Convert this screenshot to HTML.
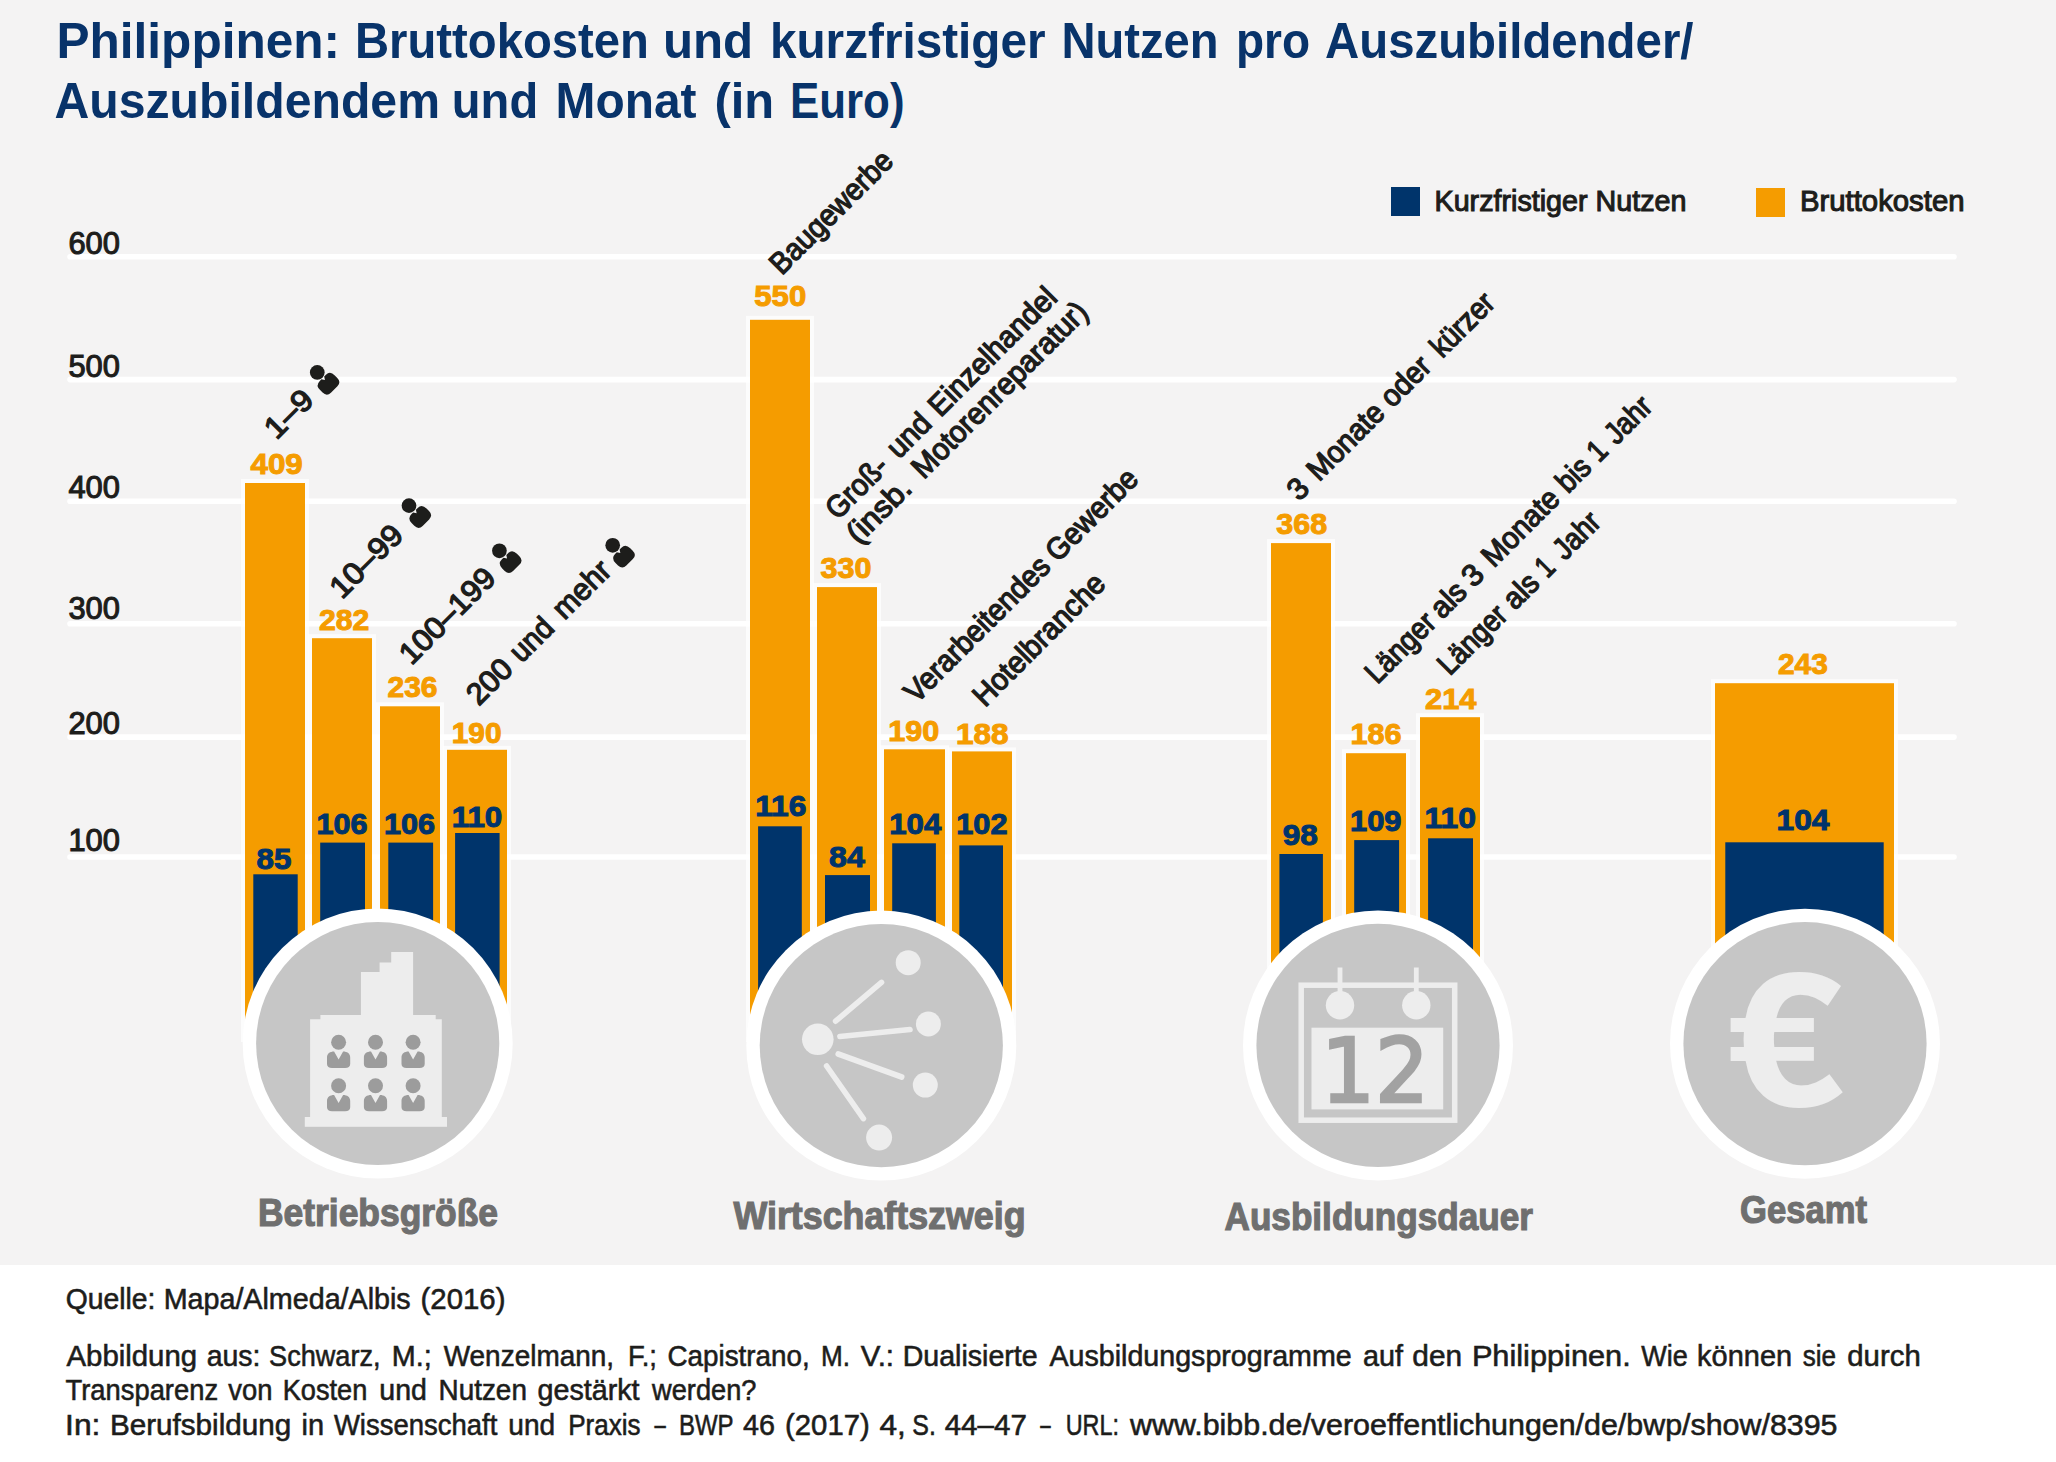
<!DOCTYPE html><html lang="de"><head><meta charset="utf-8"><title>Philippinen: Bruttokosten und kurzfristiger Nutzen</title>
<style>html,body{margin:0;padding:0;background:#fff}body{width:2056px;height:1462px;overflow:hidden}svg{display:block}text{font-family:"Liberation Sans",sans-serif}.b{font-weight:bold}.m{stroke-width:1.1px}.r{stroke-width:1.35px}.v{stroke-width:1px}.c{stroke-width:1.2px}.f{stroke-width:.6px}</style></head><body>
<svg width="2056" height="1462" viewBox="0 0 2056 1462">
<rect x="0" y="0" width="2056" height="1462" fill="#fff"/>
<rect x="0" y="0" width="2056" height="1265" fill="#f4f3f3"/>
<text y="58.2" font-size="50.4" fill="#08336a" class="b"><tspan x="56.44" textLength="283.65" lengthAdjust="spacingAndGlyphs">Philippinen:</tspan> <tspan x="354.95" textLength="294.06" lengthAdjust="spacingAndGlyphs">Bruttokosten</tspan> <tspan x="662.89" textLength="90.23" lengthAdjust="spacingAndGlyphs">und</tspan> <tspan x="769.99" textLength="275.52" lengthAdjust="spacingAndGlyphs">kurzfristiger</tspan> <tspan x="1061.43" textLength="157.14" lengthAdjust="spacingAndGlyphs">Nutzen</tspan> <tspan x="1235.94" textLength="74.13" lengthAdjust="spacingAndGlyphs">pro</tspan> <tspan x="1325.00" textLength="368.49" lengthAdjust="spacingAndGlyphs">Auszubildender/</tspan></text>
<text y="118.4" font-size="50.4" fill="#08336a" class="b"><tspan x="54.49" textLength="385.52" lengthAdjust="spacingAndGlyphs">Auszubildendem</tspan> <tspan x="451.85" textLength="86.32" lengthAdjust="spacingAndGlyphs">und</tspan> <tspan x="555.50" textLength="141.02" lengthAdjust="spacingAndGlyphs">Monat</tspan> <tspan x="714.39" textLength="59.72" lengthAdjust="spacingAndGlyphs">(in</tspan> <tspan x="789.94" textLength="114.61" lengthAdjust="spacingAndGlyphs">Euro)</tspan></text>
<rect x="1391" y="187" width="29" height="29" fill="#00346b"/>
<rect x="1756" y="188" width="29" height="29" fill="#f59c00"/>
<text x="1434.5" y="210.7" font-size="29.8" fill="#1d1d1b" stroke="#1d1d1b" class="m" textLength="252.0" lengthAdjust="spacingAndGlyphs">Kurzfristiger Nutzen</text>
<text x="1800.0" y="211.3" font-size="29.8" fill="#1d1d1b" stroke="#1d1d1b" class="m" textLength="164.5" lengthAdjust="spacingAndGlyphs">Bruttokosten</text>
<line x1="70" y1="256.7" x2="1954" y2="256.7" stroke="#fff" stroke-width="5.6" stroke-linecap="round"/>
<line x1="70" y1="379.6" x2="1954" y2="379.6" stroke="#fff" stroke-width="5.6" stroke-linecap="round"/>
<line x1="70" y1="501.2" x2="1954" y2="501.2" stroke="#fff" stroke-width="5.6" stroke-linecap="round"/>
<line x1="70" y1="623.8" x2="1954" y2="623.8" stroke="#fff" stroke-width="5.6" stroke-linecap="round"/>
<line x1="70" y1="737.1" x2="1954" y2="737.1" stroke="#fff" stroke-width="5.6" stroke-linecap="round"/>
<line x1="70" y1="857.0" x2="1954" y2="857.0" stroke="#fff" stroke-width="5.6" stroke-linecap="round"/>
<text x="68.4" y="254.1" font-size="31.0" fill="#1d1d1b" stroke="#1d1d1b" class="m" textLength="51.5" lengthAdjust="spacingAndGlyphs">600</text>
<text x="68.4" y="376.5" font-size="31.0" fill="#1d1d1b" stroke="#1d1d1b" class="m" textLength="51.5" lengthAdjust="spacingAndGlyphs">500</text>
<text x="68.4" y="497.5" font-size="31.0" fill="#1d1d1b" stroke="#1d1d1b" class="m" textLength="51.5" lengthAdjust="spacingAndGlyphs">400</text>
<text x="68.4" y="619.0" font-size="31.0" fill="#1d1d1b" stroke="#1d1d1b" class="m" textLength="51.5" lengthAdjust="spacingAndGlyphs">300</text>
<text x="68.4" y="733.9" font-size="31.0" fill="#1d1d1b" stroke="#1d1d1b" class="m" textLength="51.5" lengthAdjust="spacingAndGlyphs">200</text>
<text x="68.4" y="850.9" font-size="31.0" fill="#1d1d1b" stroke="#1d1d1b" class="m" textLength="51.5" lengthAdjust="spacingAndGlyphs">100</text>
<rect x="241.0" y="479.0" width="68.0" height="563.0" fill="#fff" opacity=".75"/>
<rect x="308.0" y="634.2" width="68.0" height="407.8" fill="#fff" opacity=".75"/>
<rect x="376.0" y="702.3" width="68.0" height="339.7" fill="#fff" opacity=".75"/>
<rect x="443.0" y="745.8" width="68.0" height="296.2" fill="#fff" opacity=".75"/>
<rect x="746.0" y="315.8" width="68.0" height="726.2" fill="#fff" opacity=".75"/>
<rect x="813.0" y="583.1" width="68.0" height="458.9" fill="#fff" opacity=".75"/>
<rect x="880.0" y="745.3" width="69.0" height="296.7" fill="#fff" opacity=".75"/>
<rect x="948.0" y="747.4" width="68.0" height="294.6" fill="#fff" opacity=".75"/>
<rect x="1267.0" y="539.1" width="68.0" height="502.9" fill="#fff" opacity=".75"/>
<rect x="1342.0" y="749.2" width="68.0" height="292.8" fill="#fff" opacity=".75"/>
<rect x="1416.0" y="713.2" width="68.0" height="328.8" fill="#fff" opacity=".75"/>
<rect x="1711.0" y="679.2" width="187.0" height="362.8" fill="#fff" opacity=".75"/>
<rect x="245.0" y="483.0" width="60.0" height="563.0" fill="#f59c00"/>
<rect x="253.3" y="874.3" width="44.4" height="171.7" fill="#00346b"/>
<rect x="312.0" y="638.2" width="60.0" height="407.8" fill="#f59c00"/>
<rect x="320.2" y="842.6" width="44.8" height="203.4" fill="#00346b"/>
<rect x="380.0" y="706.3" width="60.0" height="339.7" fill="#f59c00"/>
<rect x="388.3" y="842.6" width="44.8" height="203.4" fill="#00346b"/>
<rect x="447.0" y="749.8" width="60.0" height="296.2" fill="#f59c00"/>
<rect x="455.1" y="833.0" width="44.5" height="213.0" fill="#00346b"/>
<rect x="750.0" y="319.8" width="60.0" height="726.2" fill="#f59c00"/>
<rect x="758.1" y="826.3" width="43.7" height="219.7" fill="#00346b"/>
<rect x="817.0" y="587.1" width="60.0" height="458.9" fill="#f59c00"/>
<rect x="825.0" y="875.1" width="45.0" height="170.9" fill="#00346b"/>
<rect x="884.0" y="749.3" width="61.0" height="296.7" fill="#f59c00"/>
<rect x="892.2" y="843.3" width="43.7" height="202.7" fill="#00346b"/>
<rect x="952.0" y="751.4" width="60.0" height="294.6" fill="#f59c00"/>
<rect x="959.3" y="845.4" width="43.7" height="200.6" fill="#00346b"/>
<rect x="1271.0" y="543.1" width="60.0" height="502.9" fill="#f59c00"/>
<rect x="1279.4" y="854.0" width="43.5" height="192.0" fill="#00346b"/>
<rect x="1346.0" y="753.2" width="60.0" height="292.8" fill="#f59c00"/>
<rect x="1354.2" y="840.1" width="44.9" height="205.9" fill="#00346b"/>
<rect x="1420.0" y="717.2" width="60.0" height="328.8" fill="#f59c00"/>
<rect x="1428.1" y="838.3" width="44.9" height="207.7" fill="#00346b"/>
<rect x="1715.0" y="683.2" width="179.0" height="362.8" fill="#f59c00"/>
<rect x="1725.3" y="842.3" width="158.4" height="203.7" fill="#00346b"/>
<text x="250.5" y="473.7" font-size="29.0" fill="#f59c00" stroke="#f59c00" class="b v" textLength="52.3" lengthAdjust="spacingAndGlyphs">409</text>
<text x="256.5" y="868.8" font-size="29.0" fill="#00346b" stroke="#00346b" class="b v" textLength="34.8" lengthAdjust="spacingAndGlyphs">85</text>
<text x="319.0" y="629.7" font-size="29.0" fill="#f59c00" stroke="#f59c00" class="b v" textLength="50.3" lengthAdjust="spacingAndGlyphs">282</text>
<text x="316.5" y="834.4" font-size="29.0" fill="#00346b" stroke="#00346b" class="b v" textLength="51.0" lengthAdjust="spacingAndGlyphs">106</text>
<text x="387.5" y="697.2" font-size="29.0" fill="#f59c00" stroke="#f59c00" class="b v" textLength="50.0" lengthAdjust="spacingAndGlyphs">236</text>
<text x="384.0" y="834.4" font-size="29.0" fill="#00346b" stroke="#00346b" class="b v" textLength="51.0" lengthAdjust="spacingAndGlyphs">106</text>
<text x="451.7" y="742.9" font-size="29.0" fill="#f59c00" stroke="#f59c00" class="b v" textLength="49.8" lengthAdjust="spacingAndGlyphs">190</text>
<text x="451.7" y="826.6" font-size="29.0" fill="#00346b" stroke="#00346b" class="b v" textLength="50.6" lengthAdjust="spacingAndGlyphs">110</text>
<text x="754.3" y="306.4" font-size="29.0" fill="#f59c00" stroke="#f59c00" class="b v" textLength="51.9" lengthAdjust="spacingAndGlyphs">550</text>
<text x="755.2" y="816.0" font-size="29.0" fill="#00346b" stroke="#00346b" class="b v" textLength="51.2" lengthAdjust="spacingAndGlyphs">116</text>
<text x="820.6" y="578.0" font-size="29.0" fill="#f59c00" stroke="#f59c00" class="b v" textLength="50.9" lengthAdjust="spacingAndGlyphs">330</text>
<text x="829.1" y="867.3" font-size="29.0" fill="#00346b" stroke="#00346b" class="b v" textLength="35.8" lengthAdjust="spacingAndGlyphs">84</text>
<text x="888.2" y="740.5" font-size="29.0" fill="#f59c00" stroke="#f59c00" class="b v" textLength="51.0" lengthAdjust="spacingAndGlyphs">190</text>
<text x="889.2" y="833.5" font-size="29.0" fill="#00346b" stroke="#00346b" class="b v" textLength="52.1" lengthAdjust="spacingAndGlyphs">104</text>
<text x="955.9" y="744.2" font-size="29.0" fill="#f59c00" stroke="#f59c00" class="b v" textLength="52.6" lengthAdjust="spacingAndGlyphs">188</text>
<text x="956.3" y="833.5" font-size="29.0" fill="#00346b" stroke="#00346b" class="b v" textLength="51.2" lengthAdjust="spacingAndGlyphs">102</text>
<text x="1276.3" y="534.2" font-size="29.0" fill="#f59c00" stroke="#f59c00" class="b v" textLength="50.8" lengthAdjust="spacingAndGlyphs">368</text>
<text x="1282.7" y="844.6" font-size="29.0" fill="#00346b" stroke="#00346b" class="b v" textLength="35.1" lengthAdjust="spacingAndGlyphs">98</text>
<text x="1350.4" y="743.6" font-size="29.0" fill="#f59c00" stroke="#f59c00" class="b v" textLength="51.1" lengthAdjust="spacingAndGlyphs">186</text>
<text x="1350.0" y="831.4" font-size="29.0" fill="#00346b" stroke="#00346b" class="b v" textLength="51.5" lengthAdjust="spacingAndGlyphs">109</text>
<text x="1425.0" y="709.4" font-size="29.0" fill="#f59c00" stroke="#f59c00" class="b v" textLength="51.5" lengthAdjust="spacingAndGlyphs">214</text>
<text x="1424.5" y="827.7" font-size="29.0" fill="#00346b" stroke="#00346b" class="b v" textLength="51.4" lengthAdjust="spacingAndGlyphs">110</text>
<text x="1778.0" y="674.4" font-size="29.0" fill="#f59c00" stroke="#f59c00" class="b v" textLength="49.8" lengthAdjust="spacingAndGlyphs">243</text>
<text x="1776.5" y="830.4" font-size="29.0" fill="#00346b" stroke="#00346b" class="b v" textLength="52.9" lengthAdjust="spacingAndGlyphs">104</text>
<g transform="translate(276.50,440.60) rotate(-45)">
<text x="0" y="0" font-size="30.5" fill="#1d1d1b" stroke="#1d1d1b" class="r" textLength="55.1" lengthAdjust="spacingAndGlyphs">1–9</text>
<g transform="translate(77.03,-19.37)" fill="#1d1d1b">
<circle cx="0" cy="0" r="7.35"/>
<path d="M-10.5,14.5 Q-10.5,7.8 -4.5,7.8 L-2,7.8 L0,10.8 L2,7.8 L4.5,7.8 Q10.3,7.8 10.3,14.5 L10.3,18 Q10.3,24 4.5,24 L-4.7,24 Q-10.5,24 -10.5,18 Z"/>
</g>
</g>
<g transform="translate(341.94,599.95) rotate(-45)">
<text x="0" y="0" font-size="30.5" fill="#1d1d1b" stroke="#1d1d1b" class="r" textLength="89.4" lengthAdjust="spacingAndGlyphs">10–99</text>
<g transform="translate(114.13,-19.30)" fill="#1d1d1b">
<circle cx="0" cy="0" r="7.35"/>
<path d="M-10.5,14.5 Q-10.5,7.8 -4.5,7.8 L-2,7.8 L0,10.8 L2,7.8 L4.5,7.8 Q10.3,7.8 10.3,14.5 L10.3,18 Q10.3,24 4.5,24 L-4.7,24 Q-10.5,24 -10.5,18 Z"/>
</g>
</g>
<g transform="translate(411.40,666.00) rotate(-45)">
<text x="0" y="0" font-size="30.5" fill="#1d1d1b" stroke="#1d1d1b" class="r" textLength="121.7" lengthAdjust="spacingAndGlyphs">100–199</text>
<g transform="translate(143.68,-19.23)" fill="#1d1d1b">
<circle cx="0" cy="0" r="7.35"/>
<path d="M-10.5,14.5 Q-10.5,7.8 -4.5,7.8 L-2,7.8 L0,10.8 L2,7.8 L4.5,7.8 Q10.3,7.8 10.3,14.5 L10.3,18 Q10.3,24 4.5,24 L-4.7,24 Q-10.5,24 -10.5,18 Z"/>
</g>
</g>
<g transform="translate(479.22,706.20) rotate(-45)">
<text y="0" font-size="30.5" fill="#1d1d1b" stroke="#1d1d1b" class="r"><tspan x="-0.57" textLength="50.62" lengthAdjust="spacingAndGlyphs">200</tspan> <tspan x="59.94" textLength="48.34" lengthAdjust="spacingAndGlyphs">und</tspan> <tspan x="120.75" textLength="68.44" lengthAdjust="spacingAndGlyphs">mehr</tspan></text>
<g transform="translate(208.16,-19.39)" fill="#1d1d1b">
<circle cx="0" cy="0" r="7.35"/>
<path d="M-10.5,14.5 Q-10.5,7.8 -4.5,7.8 L-2,7.8 L0,10.8 L2,7.8 L4.5,7.8 Q10.3,7.8 10.3,14.5 L10.3,18 Q10.3,24 4.5,24 L-4.7,24 Q-10.5,24 -10.5,18 Z"/>
</g>
</g>
<g transform="translate(781.65,275.95) rotate(-45)">
<text x="0" y="0" font-size="30.5" fill="#1d1d1b" stroke="#1d1d1b" class="r" textLength="160.1" lengthAdjust="spacingAndGlyphs">Baugewerbe</text>
</g>
<g transform="translate(835.50,522.90) rotate(-45)">
<text y="0" font-size="30.5" fill="#1d1d1b" stroke="#1d1d1b" class="r"><tspan x="3.12" textLength="74.09" lengthAdjust="spacingAndGlyphs">Groß-</tspan> <tspan x="89.38" textLength="48.94" lengthAdjust="spacingAndGlyphs">und</tspan> <tspan x="148.51" textLength="167.43" lengthAdjust="spacingAndGlyphs">Einzelhandel</tspan></text>
</g>
<g transform="translate(858.25,545.45) rotate(-45)">
<text y="0" font-size="30.5" fill="#1d1d1b" stroke="#1d1d1b" class="r"><tspan x="0.23" textLength="77.78" lengthAdjust="spacingAndGlyphs">(insb.</tspan> <tspan x="92.70" textLength="234.74" lengthAdjust="spacingAndGlyphs">Motorenreparatur)</tspan></text>
</g>
<g transform="translate(915.40,705.30) rotate(-45)">
<text y="0" font-size="30.5" fill="#1d1d1b" stroke="#1d1d1b" class="r"><tspan x="1.42" textLength="192.04" lengthAdjust="spacingAndGlyphs">Verarbeitendes</tspan> <tspan x="201.40" textLength="116.25" lengthAdjust="spacingAndGlyphs">Gewerbe</tspan></text>
</g>
<g transform="translate(984.95,707.95) rotate(-45)">
<text x="0" y="0" font-size="30.5" fill="#1d1d1b" stroke="#1d1d1b" class="r" textLength="173.0" lengthAdjust="spacingAndGlyphs">Hotelbranche</text>
</g>
<g transform="translate(1298.50,502.80) rotate(-45)">
<text y="0" font-size="30.5" fill="#1d1d1b" stroke="#1d1d1b" class="r"><tspan x="0.99" textLength="16.68" lengthAdjust="spacingAndGlyphs">3</tspan> <tspan x="29.00" textLength="95.59" lengthAdjust="spacingAndGlyphs">Monate</tspan> <tspan x="133.09" textLength="57.12" lengthAdjust="spacingAndGlyphs">oder</tspan> <tspan x="203.23" textLength="76.93" lengthAdjust="spacingAndGlyphs">kürzer</tspan></text>
</g>
<g transform="translate(1377.92,684.30) rotate(-45)">
<text y="0" font-size="30.5" fill="#1d1d1b" stroke="#1d1d1b" class="r"><tspan x="-1.01" textLength="85.41" lengthAdjust="spacingAndGlyphs">Länger</tspan> <tspan x="90.91" textLength="37.33" lengthAdjust="spacingAndGlyphs">als</tspan> <tspan x="135.62" textLength="17.26" lengthAdjust="spacingAndGlyphs">3</tspan> <tspan x="163.88" textLength="95.88" lengthAdjust="spacingAndGlyphs">Monate</tspan> <tspan x="268.81" textLength="35.35" lengthAdjust="spacingAndGlyphs">bis</tspan> <tspan x="312.67" textLength="14.97" lengthAdjust="spacingAndGlyphs">1</tspan> <tspan x="337.27" textLength="53.16" lengthAdjust="spacingAndGlyphs">Jahr</tspan></text>
</g>
<g transform="translate(1451.35,674.85) rotate(-45)">
<text y="0" font-size="30.5" fill="#1d1d1b" stroke="#1d1d1b" class="r"><tspan x="-2.33" textLength="84.00" lengthAdjust="spacingAndGlyphs">Länger</tspan> <tspan x="90.18" textLength="36.76" lengthAdjust="spacingAndGlyphs">als</tspan> <tspan x="135.71" textLength="13.57" lengthAdjust="spacingAndGlyphs">1</tspan> <tspan x="160.59" textLength="52.88" lengthAdjust="spacingAndGlyphs">Jahr</tspan></text>
</g>
<circle cx="377.7" cy="1043.5" r="135" fill="#fff"/>
<circle cx="377.7" cy="1043.5" r="121.6" fill="#c6c6c6"/>
<circle cx="881.3" cy="1045.6" r="135" fill="#fff"/>
<circle cx="881.3" cy="1045.6" r="121.6" fill="#c6c6c6"/>
<circle cx="1378.0" cy="1045.4" r="135" fill="#fff"/>
<circle cx="1378.0" cy="1045.4" r="121.6" fill="#c6c6c6"/>
<circle cx="1805.0" cy="1043.7" r="135" fill="#fff"/>
<circle cx="1805.0" cy="1043.7" r="121.6" fill="#c6c6c6"/>
<g fill="#ededed">
<rect x="304.8" y="1117" width="142.2" height="9.8"/>
<path d="M310.1,1118 L310.1,1019.3 L320.4,1019.3 L320.4,1015 L360.9,1015 L360.9,972.1 L379.6,972.1 L379.6,962.6 L391.2,962.6 L391.2,952 L413.1,952 L413.1,1015 L435.7,1015 L435.7,1019.3 L441.8,1019.3 L441.8,1118 Z"/>
</g>
<g fill="#9c9c9c"><circle cx="338.6" cy="1042.3" r="7.5"/>
<path d="M327.0,1057.6 C327.0,1053.6 330.0,1051.6 334.1,1051.6 L338.6,1059.6 L343.1,1051.6 C347.2,1051.6 350.2,1053.6 350.2,1057.6 L350.2,1063.9 C350.2,1066.4 348.2,1067.9 345.2,1067.9 L332.0,1067.9 C329.0,1067.9 327.0,1066.4 327.0,1063.9 Z"/>
</g>
<g fill="#9c9c9c"><circle cx="375.5" cy="1042.3" r="7.5"/>
<path d="M363.9,1057.6 C363.9,1053.6 366.9,1051.6 371.0,1051.6 L375.5,1059.6 L380.0,1051.6 C384.1,1051.6 387.1,1053.6 387.1,1057.6 L387.1,1063.9 C387.1,1066.4 385.1,1067.9 382.1,1067.9 L368.9,1067.9 C365.9,1067.9 363.9,1066.4 363.9,1063.9 Z"/>
</g>
<g fill="#9c9c9c"><circle cx="413.1" cy="1042.3" r="7.5"/>
<path d="M401.5,1057.6 C401.5,1053.6 404.5,1051.6 408.6,1051.6 L413.1,1059.6 L417.6,1051.6 C421.7,1051.6 424.7,1053.6 424.7,1057.6 L424.7,1063.9 C424.7,1066.4 422.7,1067.9 419.7,1067.9 L406.5,1067.9 C403.5,1067.9 401.5,1066.4 401.5,1063.9 Z"/>
</g>
<g fill="#9c9c9c"><circle cx="338.6" cy="1085.7" r="7.5"/>
<path d="M327.0,1101.0 C327.0,1097.0 330.0,1095.0 334.1,1095.0 L338.6,1103.0 L343.1,1095.0 C347.2,1095.0 350.2,1097.0 350.2,1101.0 L350.2,1107.3 C350.2,1109.8 348.2,1111.3 345.2,1111.3 L332.0,1111.3 C329.0,1111.3 327.0,1109.8 327.0,1107.3 Z"/>
</g>
<g fill="#9c9c9c"><circle cx="375.5" cy="1085.7" r="7.5"/>
<path d="M363.9,1101.0 C363.9,1097.0 366.9,1095.0 371.0,1095.0 L375.5,1103.0 L380.0,1095.0 C384.1,1095.0 387.1,1097.0 387.1,1101.0 L387.1,1107.3 C387.1,1109.8 385.1,1111.3 382.1,1111.3 L368.9,1111.3 C365.9,1111.3 363.9,1109.8 363.9,1107.3 Z"/>
</g>
<g fill="#9c9c9c"><circle cx="413.1" cy="1085.7" r="7.5"/>
<path d="M401.5,1101.0 C401.5,1097.0 404.5,1095.0 408.6,1095.0 L413.1,1103.0 L417.6,1095.0 C421.7,1095.0 424.7,1097.0 424.7,1101.0 L424.7,1107.3 C424.7,1109.8 422.7,1111.3 419.7,1111.3 L406.5,1111.3 C403.5,1111.3 401.5,1109.8 401.5,1107.3 Z"/>
</g>
<g fill="#ededed" stroke="#ededed" stroke-width="5.6" stroke-linecap="round">
<line x1="835.6" y1="1021.2" x2="881.5" y2="982.4"/>
<line x1="839.9" y1="1036.5" x2="910.0" y2="1029.5"/>
<line x1="838.2" y1="1054.0" x2="901.7" y2="1077.0"/>
<line x1="826.6" y1="1066.0" x2="863.4" y2="1118.6"/>
</g><g fill="#ededed">
<circle cx="817.8" cy="1039.3" r="15.8"/>
<circle cx="908.2" cy="962.7" r="12.5"/>
<circle cx="928.4" cy="1024.0" r="12.5"/>
<circle cx="925.3" cy="1085.1" r="12.5"/>
<circle cx="879.1" cy="1137.6" r="13.0"/>
</g>
<g fill="none" stroke="#ededed">
<rect x="1301.2" y="985.2" width="153.5" height="135" stroke-width="5.5"/>
<line x1="1340" y1="967.5" x2="1340" y2="992" stroke-width="4.8"/><line x1="1416.3" y1="967.5" x2="1416.3" y2="992" stroke-width="4.8"/>
</g><g fill="#ededed">
<circle cx="1340" cy="1005.2" r="14.2"/><circle cx="1416.3" cy="1005.2" r="14.2"/>
<rect x="1311.5" y="1027.7" width="131.7" height="81.7"/></g>
<text x="1321" y="1101.5" font-size="89" fill="#a2a2a2" stroke="#a2a2a2" stroke-width="2.6" style="font-family:'DejaVu Sans','Liberation Sans',sans-serif" textLength="108" lengthAdjust="spacingAndGlyphs">12</text>
<text x="1723.6" y="1105.6" font-size="199.8" font-weight="bold" fill="#ededed" style="font-family:'Liberation Mono',monospace" textLength="124.3" lengthAdjust="spacingAndGlyphs">€</text>
<text x="258.0" y="1225.8" font-size="39.3" fill="#6f6f6f" stroke="#6f6f6f" class="b c" textLength="240.0" lengthAdjust="spacingAndGlyphs">Betriebsgröße</text>
<text x="733.5" y="1229.0" font-size="39.3" fill="#6f6f6f" stroke="#6f6f6f" class="b c" textLength="292.0" lengthAdjust="spacingAndGlyphs">Wirtschaftszweig</text>
<text x="1224.5" y="1229.8" font-size="39.3" fill="#6f6f6f" stroke="#6f6f6f" class="b c" textLength="308.5" lengthAdjust="spacingAndGlyphs">Ausbildungsdauer</text>
<text x="1740.0" y="1223.0" font-size="39.3" fill="#6f6f6f" stroke="#6f6f6f" class="b c" textLength="127.0" lengthAdjust="spacingAndGlyphs">Gesamt</text>
<text y="1309.4" font-size="30.2" fill="#1d1d1b" stroke="#1d1d1b" class="f"><tspan x="65.69" textLength="89.81" lengthAdjust="spacingAndGlyphs">Quelle:</tspan> <tspan x="163.70" textLength="247.00" lengthAdjust="spacingAndGlyphs">Mapa/Almeda/Albis</tspan> <tspan x="420.51" textLength="84.98" lengthAdjust="spacingAndGlyphs">(2016)</tspan></text>
<text y="1365.6" font-size="30.2" fill="#1d1d1b" stroke="#1d1d1b" class="f"><tspan x="66.49" textLength="130.58" lengthAdjust="spacingAndGlyphs">Abbildung</tspan> <tspan x="206.69" textLength="53.81" lengthAdjust="spacingAndGlyphs">aus:</tspan> <tspan x="269.08" textLength="111.43" lengthAdjust="spacingAndGlyphs">Schwarz,</tspan> <tspan x="391.84" textLength="39.92" lengthAdjust="spacingAndGlyphs">M.;</tspan> <tspan x="443.70" textLength="170.38" lengthAdjust="spacingAndGlyphs">Wenzelmann,</tspan> <tspan x="627.99" textLength="28.99" lengthAdjust="spacingAndGlyphs">F.;</tspan> <tspan x="667.50" textLength="142.23" lengthAdjust="spacingAndGlyphs">Capistrano,</tspan> <tspan x="821.07" textLength="29.04" lengthAdjust="spacingAndGlyphs">M.</tspan> <tspan x="860.71" textLength="33.36" lengthAdjust="spacingAndGlyphs">V.:</tspan> <tspan x="902.71" textLength="134.99" lengthAdjust="spacingAndGlyphs">Dualisierte</tspan> <tspan x="1049.50" textLength="302.20" lengthAdjust="spacingAndGlyphs">Ausbildungsprogramme</tspan> <tspan x="1362.92" textLength="39.97" lengthAdjust="spacingAndGlyphs">auf</tspan> <tspan x="1412.31" textLength="49.78" lengthAdjust="spacingAndGlyphs">den</tspan> <tspan x="1471.88" textLength="158.83" lengthAdjust="spacingAndGlyphs">Philippinen.</tspan> <tspan x="1641.31" textLength="46.56" lengthAdjust="spacingAndGlyphs">Wie</tspan> <tspan x="1697.09" textLength="95.02" lengthAdjust="spacingAndGlyphs">können</tspan> <tspan x="1802.70" textLength="33.38" lengthAdjust="spacingAndGlyphs">sie</tspan> <tspan x="1847.31" textLength="73.40" lengthAdjust="spacingAndGlyphs">durch</tspan></text>
<text y="1400.3" font-size="30.2" fill="#1d1d1b" stroke="#1d1d1b" class="f"><tspan x="65.50" textLength="152.59" lengthAdjust="spacingAndGlyphs">Transparenz</tspan> <tspan x="228.31" textLength="44.15" lengthAdjust="spacingAndGlyphs">von</tspan> <tspan x="282.70" textLength="84.60" lengthAdjust="spacingAndGlyphs">Kosten</tspan> <tspan x="379.29" textLength="47.60" lengthAdjust="spacingAndGlyphs">und</tspan> <tspan x="438.50" textLength="88.40" lengthAdjust="spacingAndGlyphs">Nutzen</tspan> <tspan x="537.51" textLength="102.00" lengthAdjust="spacingAndGlyphs">gestärkt</tspan> <tspan x="652.09" textLength="104.40" lengthAdjust="spacingAndGlyphs">werden?</tspan></text>
<text y="1435.2" font-size="30.2" fill="#1d1d1b" stroke="#1d1d1b" class="f"><tspan x="65.12" textLength="35.36" lengthAdjust="spacingAndGlyphs">In:</tspan> <tspan x="109.88" textLength="181.41" lengthAdjust="spacingAndGlyphs">Berufsbildung</tspan> <tspan x="301.53" textLength="22.57" lengthAdjust="spacingAndGlyphs">in</tspan> <tspan x="333.89" textLength="163.42" lengthAdjust="spacingAndGlyphs">Wissenschaft</tspan> <tspan x="508.28" textLength="46.84" lengthAdjust="spacingAndGlyphs">und</tspan> <tspan x="568.13" textLength="72.37" lengthAdjust="spacingAndGlyphs">Praxis</tspan> <tspan x="654.38" textLength="11.25" lengthAdjust="spacingAndGlyphs">–</tspan> <tspan x="678.90" textLength="54.20" lengthAdjust="spacingAndGlyphs">BWP</tspan> <tspan x="742.92" textLength="31.94" lengthAdjust="spacingAndGlyphs">46</tspan> <tspan x="785.10" textLength="84.60" lengthAdjust="spacingAndGlyphs">(2017)</tspan> <tspan x="879.48" textLength="26.38" lengthAdjust="spacingAndGlyphs">4,</tspan> <tspan x="912.32" textLength="23.57" lengthAdjust="spacingAndGlyphs">S.</tspan> <tspan x="944.70" textLength="82.19" lengthAdjust="spacingAndGlyphs">44–47</tspan> <tspan x="1040.37" textLength="10.42" lengthAdjust="spacingAndGlyphs">–</tspan> <tspan x="1065.67" textLength="53.24" lengthAdjust="spacingAndGlyphs">URL:</tspan> <tspan x="1130.10" textLength="707.40" lengthAdjust="spacingAndGlyphs">www.bibb.de/veroeffentlichungen/de/bwp/show/8395</tspan></text>
</svg></body></html>
